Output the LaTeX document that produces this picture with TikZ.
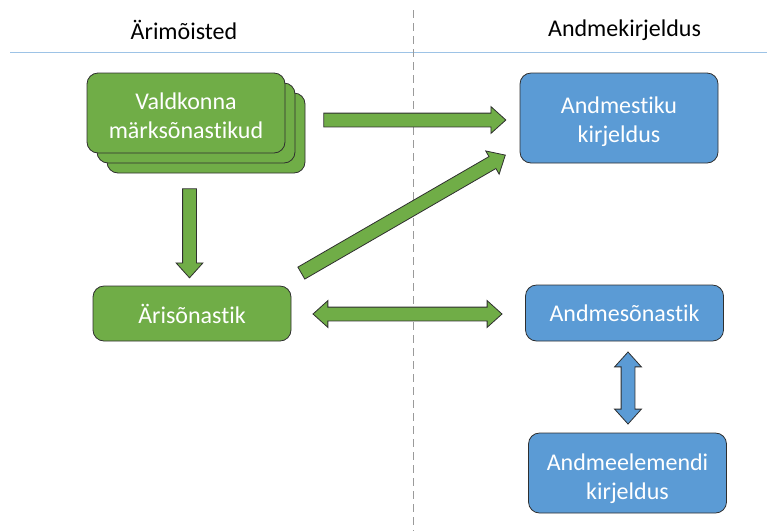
\documentclass[tikz,border=0pt]{standalone}
\usepackage{fontspec}
\setmainfont{Carlito}[Ligatures={NoCommon,NoRequired,NoContextual}]
\usetikzlibrary{shapes.arrows,calc}
\definecolor{boxgreen}{HTML}{70AD47}
\definecolor{boxblue}{HTML}{5B9BD5}
\definecolor{edge}{HTML}{2F2F2F}
\definecolor{rule}{HTML}{9DC3E6}
\definecolor{divider}{HTML}{9A9A9A}
\tikzset{
  x=1pt, y=-1pt,
  txt/.style={font=\fontsize{24}{29}\selectfont},
  box/.style={txt, rounded corners=11pt, draw=edge, line width=0.8pt, text=white,
    align=center, inner sep=0pt, minimum width=198pt},
  greenbox/.style={box, fill=boxgreen},
  bluebox/.style={box, fill=boxblue},
  boxtext/.style={txt, text=white, align=center, inner sep=0pt},
  arrowbase/.style={draw=edge, line width=0.8pt, inner xsep=0pt, inner ysep=6.5pt,
    anchor=center, sloped},
  onearrow/.style={arrowbase, single arrow, single arrow head extend=6.5pt,
    single arrow tip angle=84, fill=boxgreen},
  twoarrow/.style={arrowbase, double arrow, double arrow head extend=6.5pt,
    double arrow tip angle=84},
}
\begin{document}
\begin{tikzpicture}
\useasboundingbox (0,0) rectangle (767,531);

% column headers and separators
\draw[rule, line width=0.9pt] (10,52) -- (767,52);
\draw[divider, line width=0.8pt, dash pattern=on 8pt off 5pt] (413,10) -- (413,531);
\node[txt] (hleft) at (184,30) {Ärimõisted};
\node[txt] (hright) at (624.5,30) {Andmekirjeldus};

% business side
\node[greenbox, minimum height=80pt] (vk3) at (206,133) {};
\node[greenbox, minimum height=80pt] (vk2) at (196,123) {};
\node[greenbox, minimum height=80pt] (vk) at (186,113) {};
\node[boxtext] (vkt) at ($(vk.center)+(0,3)$) {Valdkonna\\märksõnastikud};
\node[greenbox, minimum height=55pt] (ar) at (192,313.5) {Ärisõnastik};

% data description side
\node[bluebox, minimum height=90pt] (ak) at (619,118) {};
\node[boxtext] (akt) at ($(ak.center)+(0,4)$) {Andmestiku\\kirjeldus};
\node[bluebox, minimum height=56pt] (as) at (624.5,313) {Andmesõnastik};
\node[bluebox, minimum height=80pt] (ae) at (627.5,473) {};
\node[boxtext] (aet) at ($(ae.center)+(0,6)$) {Andmeelemendi\\kirjeldus};

% arrow end points
\coordinate (a1s) at (320,120);  \coordinate (a1e) at (502,120);
\coordinate (a2s) at (298,275);  \coordinate (a2e) at (502,157);
\coordinate (a3s) at (189.5,185);\coordinate (a3e) at (189.5,274);
\coordinate (a4s) at (313,314);  \coordinate (a4e) at (502,314);
\coordinate (a5s) at (628,352);  \coordinate (a5e) at (628,424);

% block arrows
\path let \p1=($(a1e)-(a1s)$), \n1={veclen(\x1,\y1)} in
  (a1s) -- (a1e) node[midway, onearrow, minimum height=\n1] (arr1) {};
\path let \p1=($(a2e)-(a2s)$), \n1={veclen(\x1,\y1)} in
  (a2s) -- (a2e) node[midway, onearrow, minimum height=\n1] (arr2) {};
\path let \p1=($(a3e)-(a3s)$), \n1={veclen(\x1,\y1)} in
  (a3s) -- (a3e) node[midway, onearrow, minimum height=\n1] (arr3) {};
\path let \p1=($(a4e)-(a4s)$), \n1={veclen(\x1,\y1)} in
  (a4s) -- (a4e) node[midway, twoarrow, fill=boxgreen, minimum height=\n1] (arr4) {};
\path let \p1=($(a5e)-(a5s)$), \n1={veclen(\x1,\y1)} in
  (a5s) -- (a5e) node[midway, twoarrow, fill=boxblue, minimum height=\n1] (arr5) {};
\end{tikzpicture}
\end{document}
